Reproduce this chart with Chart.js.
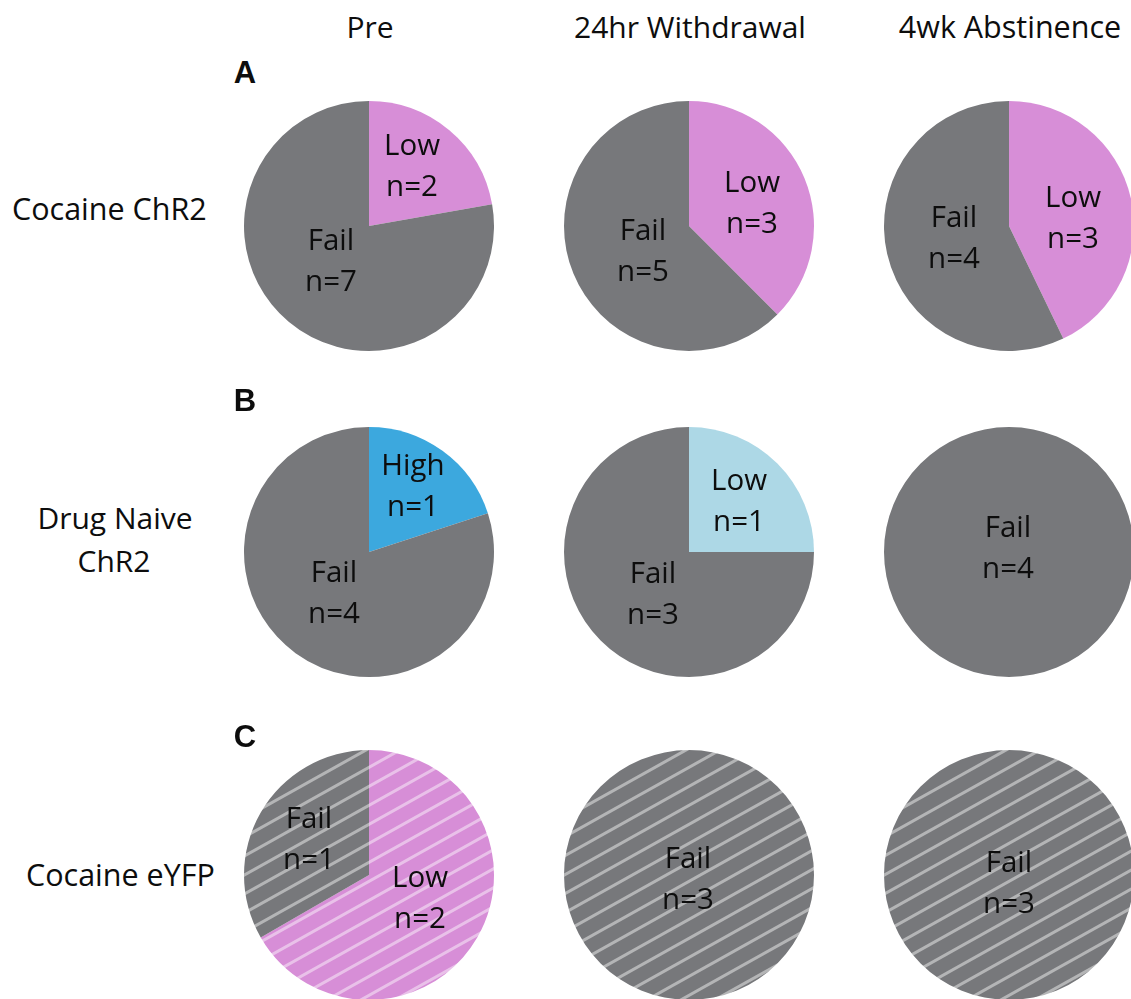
<!DOCTYPE html>
<html>
<head>
<meta charset="utf-8">
<title>ChR2 stimulation outcomes</title>
<script src="https://cdn.jsdelivr.net/npm/chart.js@4.4.1/dist/chart.umd.min.js"></script>
<style>
  html, body { margin: 0; padding: 0; background: #ffffff; }
  body { width: 1131px; height: 999px; position: relative; overflow: hidden; font-family: "Open Sans", "Noto Sans", sans-serif; }
  .txt { position: absolute; white-space: nowrap; line-height: 1; color: #0d0d0d; }
  .pie { position: absolute; }
</style>
</head>
<body>
<script>
// ---- data -------------------------------------------------------------
const timepoints = ['Pre', '24hr Withdrawal', '4wk Abstinence'];
const groups = ['Cocaine ChR2', 'Drug Naive ChR2', 'Cocaine eYFP'];
const panelLetters = ['A', 'B', 'C'];

// outcome categories and animal counts per time point (slices run clockwise from 12 o'clock)
const cocaineChR2Outcomes = [['Low', 'Fail'], ['Low', 'Fail'], ['Low', 'Fail']];
const cocaineChR2Counts   = [[2, 7], [3, 5], [3, 4]];

const naiveChR2Outcomes = [['High', 'Fail'], ['Low', 'Fail'], ['Fail']];
const naiveChR2Counts   = [[1, 4], [1, 3], [4]];

const cocaineEYFPOutcomes = [['Low', 'Fail'], ['Fail'], ['Fail']];
const cocaineEYFPCounts   = [[2, 1], [3], [3]];

// ---- styling ----------------------------------------------------------
const FAIL_GREY = '#77787b';
const PINK = '#d78ed7';
const rowColors = [
  { Low: PINK, Fail: FAIL_GREY },
  { High: '#3ca8de', Low: '#add8e6', Fail: FAIL_GREY },
  { Low: PINK, Fail: FAIL_GREY }
];
const rowHatched = [false, false, true];

const colCenterX = [369, 689, 1009];
const rowCenterY = [226, 552, 875];
const PIE_R = 125;

// slice label anchor offsets from the pie centre: [dx, first-line baseline dy]
const labelOffsets = [
  [ [[43, -71], [-38, 24]], [[63, -34], [-46, 14]], [[64, -19], [-55, 1]] ],
  [ [[44, -77], [-35, 30]], [[50, -62], [-36, 31]], [[-1, -15]] ],
  [ [[51, 12], [-60, -47]], [[-1, -7]], [[0, -3]] ]
];
const LINE_GAP = 41;
const LABEL_FONT = '29.5px "Open Sans", "Noto Sans", sans-serif';

// ---- helpers ----------------------------------------------------------
function hatchPattern(color) {
  const W = 34, H = 19;
  const tile = document.createElement('canvas');
  tile.width = W; tile.height = H;
  const g = tile.getContext('2d');
  g.fillStyle = color;
  g.fillRect(0, 0, W, H);
  g.strokeStyle = 'rgba(255,255,255,0.45)';
  g.lineWidth = 3;
  for (let k = -1; k <= 1; k++) {
    g.beginPath();
    g.moveTo(-W, 2 * H + k * H);
    g.lineTo(2 * W, -H + k * H);
    g.stroke();
  }
  return g.createPattern(tile, 'repeat');
}

function placeText(text, x, baseline, opts) {
  const d = document.createElement('div');
  d.className = 'txt';
  d.style.fontSize = (opts.size || 29) + 'px';
  if (opts.family) d.style.fontFamily = opts.family;
  if (opts.weight) d.style.fontWeight = opts.weight;
  d.textContent = text;
  const mark = document.createElement('span');
  mark.style.display = 'inline-block';
  mark.style.width = '0';
  mark.style.height = '0';
  mark.style.verticalAlign = 'baseline';
  d.appendChild(mark);
  document.body.appendChild(d);
  const baseOff = mark.offsetTop;
  d.style.top = (baseline - baseOff) + 'px';
  const w = d.getBoundingClientRect().width;
  if (opts.align === 'center') d.style.left = (x - w / 2) + 'px';
  else d.style.left = x + 'px';
}

// draws "Category / n=value" inside each slice
const sliceLabels = {
  id: 'sliceLabels',
  afterDatasetsDraw(chart, args, pluginOpts) {
    const ctx = chart.ctx;
    const meta = chart.getDatasetMeta(0);
    const ds = chart.data.datasets[0];
    ctx.save();
    ctx.font = LABEL_FONT;
    ctx.fillStyle = '#0d0d0d';
    ctx.textAlign = 'center';
    ctx.textBaseline = 'alphabetic';
    meta.data.forEach((arc, i) => {
      const [dx, dy] = pluginOpts.offsets[i];
      ctx.fillText(chart.data.labels[i], arc.x + dx, arc.y + dy);
      ctx.fillText('n=' + ds.data[i], arc.x + dx, arc.y + dy + LINE_GAP);
    });
    ctx.restore();
  }
};

// ---- build ------------------------------------------------------------
const rowOutcomes = [cocaineChR2Outcomes, naiveChR2Outcomes, cocaineEYFPOutcomes];
const rowCounts = [cocaineChR2Counts, naiveChR2Counts, cocaineEYFPCounts];

const PAD = 5;
const SIZE = 2 * PIE_R + 2 * PAD;

rowOutcomes.forEach((outcomesByTime, r) => {
  outcomesByTime.forEach((cats, c) => {
    const cv = document.createElement('canvas');
    cv.className = 'pie';
    cv.width = SIZE; cv.height = SIZE;
    cv.style.width = SIZE + 'px'; cv.style.height = SIZE + 'px';
    cv.style.left = (colCenterX[c] - SIZE / 2) + 'px';
    cv.style.top = (rowCenterY[r] - SIZE / 2) + 'px';
    document.body.appendChild(cv);

    const fills = cats.map(cat => rowHatched[r] ? hatchPattern(rowColors[r][cat]) : rowColors[r][cat]);

    new Chart(cv, {
      type: 'pie',
      data: {
        labels: cats,
        datasets: [{
          data: rowCounts[r][c],
          backgroundColor: fills,
          borderWidth: 0,
          hoverOffset: 0,
          offset: 0
        }]
      },
      options: {
        responsive: false,
        animation: false,
        events: [],
        layout: { padding: PAD },
        plugins: {
          legend: { display: false },
          tooltip: { enabled: false },
          sliceLabels: { offsets: labelOffsets[r][c] }
        }
      },
      plugins: [sliceLabels]
    });
  });
});

// column headings
const headingBaseline = 38;
placeText(timepoints[0], 370, headingBaseline, { align: 'center', size: 30 });
placeText(timepoints[1], 690, headingBaseline, { align: 'center', size: 30 });
placeText(timepoints[2], 1010, headingBaseline, { align: 'center', size: 30.5 });

// group names
placeText('Cocaine ChR2', 12, 220, { size: 30.5 });
placeText('Drug Naive', 115, 529, { align: 'center', size: 30 });
placeText('ChR2', 114, 572, { align: 'center', size: 30 });
placeText('Cocaine eYFP', 26, 886, { size: 30.5 });

// panel letters
const letterBaselines = [83, 411, 747];
panelLetters.forEach((L, r) => placeText(L, 245, letterBaselines[r], {
  align: 'center', size: 31, weight: 'bold', family: '"Liberation Sans", Arial, sans-serif'
}));
</script>
</body>
</html>
